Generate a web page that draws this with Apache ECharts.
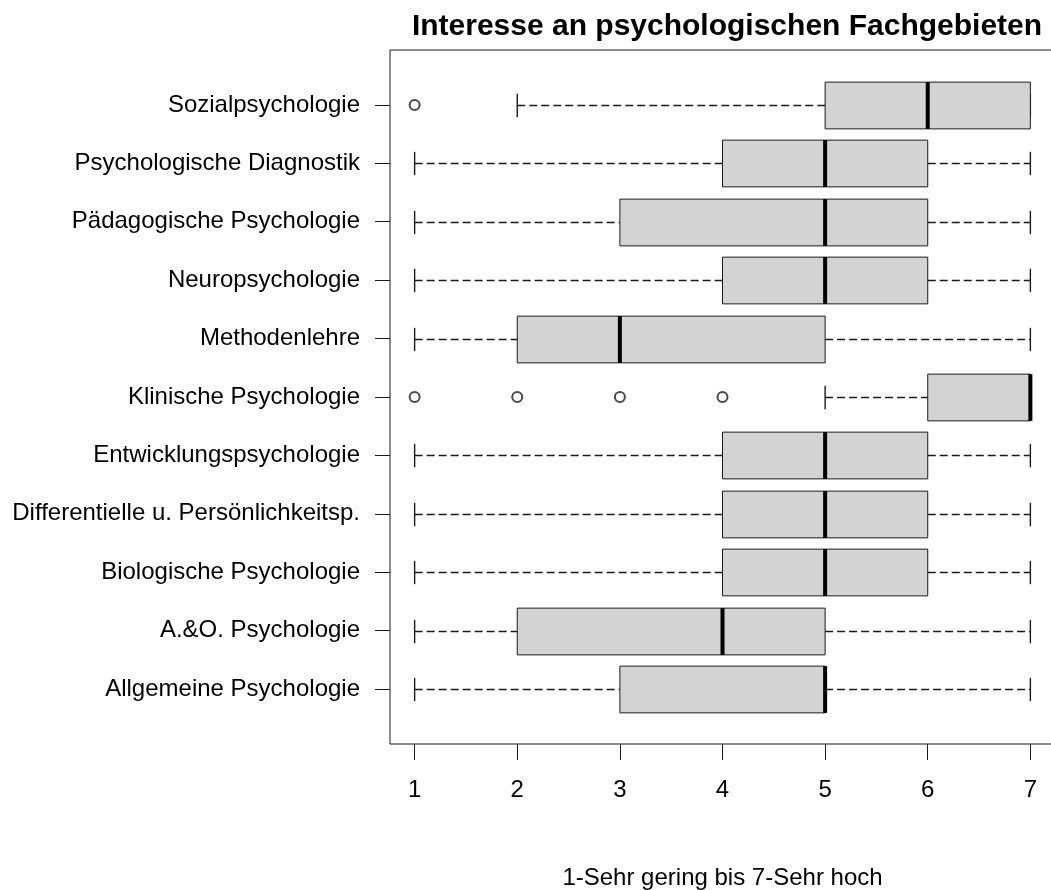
<!DOCTYPE html>
<html>
<head>
<meta charset="utf-8">
<script src="https://cdn.jsdelivr.net/npm/echarts@6/dist/echarts.min.js"></script>
<style>
  html, body { margin: 0; padding: 0; background: #fff; }
  #chart { width: 1051px; height: 890px; }
</style>
</head>
<body>
<div id="chart"></div>
<script>
// bottom to top, same order as the R boxplot
const categories = [
    'Allgemeine Psychologie',
    'A.&O. Psychologie',
    'Biologische Psychologie',
    'Differentielle u. Persönlichkeitsp.',
    'Entwicklungspsychologie',
    'Klinische Psychologie',
    'Methodenlehre',
    'Neuropsychologie',
    'Pädagogische Psychologie',
    'Psychologische Diagnostik',
    'Sozialpsychologie'
]
const whiskerLow = [1, 1, 1, 1, 1, 5, 1, 1, 1, 1, 2]
const q1 = [3, 2, 4, 4, 4, 6, 2, 4, 3, 4, 5]
const median = [5, 4, 5, 5, 5, 7, 3, 5, 5, 5, 6]
const q3 = [5, 5, 6, 6, 6, 7, 5, 6, 6, 6, 7]
const whiskerHigh = [7, 7, 7, 7, 7, 7, 7, 7, 7, 7, 7]
const outlierCategory = ['Klinische Psychologie', 'Klinische Psychologie', 'Klinische Psychologie', 'Klinische Psychologie', 'Sozialpsychologie']
const outlierValue = [1, 2, 3, 4, 1]
const xTicks = [1, 2, 3, 4, 5, 6, 7]

const FONT = '"Liberation Sans", Arial, sans-serif'
const LINE = '#1a1a1a'

const boxData = categories.map((c, i) => [i, whiskerLow[i], q1[i], median[i], q3[i], whiskerHigh[i]])
const outlierData = outlierCategory.map((c, i) => [outlierValue[i], categories.indexOf(c)])
const yIdx = categories.map((c, i) => i)

function renderBox(params, api) {
    const y = api.value(0)
    const band = api.size([0, 1])[1]
    const half = band * 0.4
    const staple = band * 0.2
    const lo = api.coord([api.value(1), y])
    const b1 = api.coord([api.value(2), y])
    const md = api.coord([api.value(3), y])
    const b3 = api.coord([api.value(4), y])
    const hi = api.coord([api.value(5), y])
    const cy = Math.round(b1[1]) + 0.5
    const dash = { stroke: LINE, lineWidth: 1.4, lineDash: [8, 4], fill: null }
    const solid = { stroke: LINE, lineWidth: 1.4, fill: null }
    const kids = []
    if (b1[0] > lo[0]) {
        kids.push({ type: 'line', shape: { x1: lo[0], y1: cy, x2: b1[0], y2: cy }, style: dash })
    }
    if (hi[0] > b3[0]) {
        kids.push({ type: 'line', shape: { x1: b3[0], y1: cy, x2: hi[0], y2: cy }, style: dash })
    }
    kids.push({ type: 'line', shape: { x1: lo[0], y1: cy - staple, x2: lo[0], y2: cy + staple }, style: solid })
    kids.push({ type: 'line', shape: { x1: hi[0], y1: cy - staple, x2: hi[0], y2: cy + staple }, style: solid })
    kids.push({
        type: 'rect',
        shape: { x: b1[0], y: cy - half, width: b3[0] - b1[0], height: half * 2 },
        style: { fill: '#d3d3d3', stroke: LINE, lineWidth: 1 }
    })
    kids.push({ type: 'line', shape: { x1: md[0], y1: cy - half, x2: md[0], y2: cy + half }, style: { stroke: '#000', lineWidth: 4 } })
    return { type: 'group', children: kids }
}

const chart = echarts.init(document.getElementById('chart'))
chart.setOption({
    animation: false,
    backgroundColor: '#fff',
    title: {
        text: 'Interesse an psychologischen Fachgebieten',
        left: 722,
        textAlign: 'center',
        top: 7,
        textStyle: { fontFamily: FONT, fontSize: 30, fontWeight: 'bold', color: '#000' }
    },
    grid: {
        left: 390, right: -4, top: 50, bottom: 146,
        outerBoundsMode: 'none',
        containLabel: false,
        show: true, borderColor: LINE, borderWidth: 1, backgroundColor: 'transparent'
    },
    xAxis: {
        type: 'value',
        min: 0.76,
        max: 7.24,
        name: '1-Sehr gering bis 7-Sehr hoch',
        nameLocation: 'middle',
        nameGap: 122,
        nameTextStyle: { fontFamily: FONT, fontSize: 24, color: '#000' },
        axisLine: { show: false, onZero: false },
        splitLine: { show: false },
        axisTick: { show: true, inside: false, length: 16, customValues: xTicks, lineStyle: { color: LINE, width: 1 } },
        axisLabel: { customValues: xTicks, margin: 34, fontFamily: FONT, fontSize: 24, color: '#000' }
    },
    yAxis: {
        type: 'value',
        min: -0.94,
        max: 10.94,
        axisLine: { show: false, onZero: false },
        splitLine: { show: false },
        axisTick: { show: true, inside: false, length: 15, customValues: yIdx, lineStyle: { color: LINE, width: 1 } },
        axisLabel: {
            customValues: yIdx,
            margin: 30,
            fontFamily: FONT,
            fontSize: 24,
            color: '#000',
            formatter: v => categories[Math.round(v)]
        }
    },
    series: [
        {
            type: 'custom',
            renderItem: renderBox,
            encode: { x: [1, 2, 3, 4, 5], y: 0 },
            data: boxData,
            z: 2
        },
        {
            type: 'scatter',
            data: outlierData,
            symbol: 'emptyCircle',
            symbolSize: 10,
            itemStyle: { color: LINE, borderColor: LINE, borderWidth: 1 },
            z: 3
        }
    ]
})
</script>
</body>
</html>
